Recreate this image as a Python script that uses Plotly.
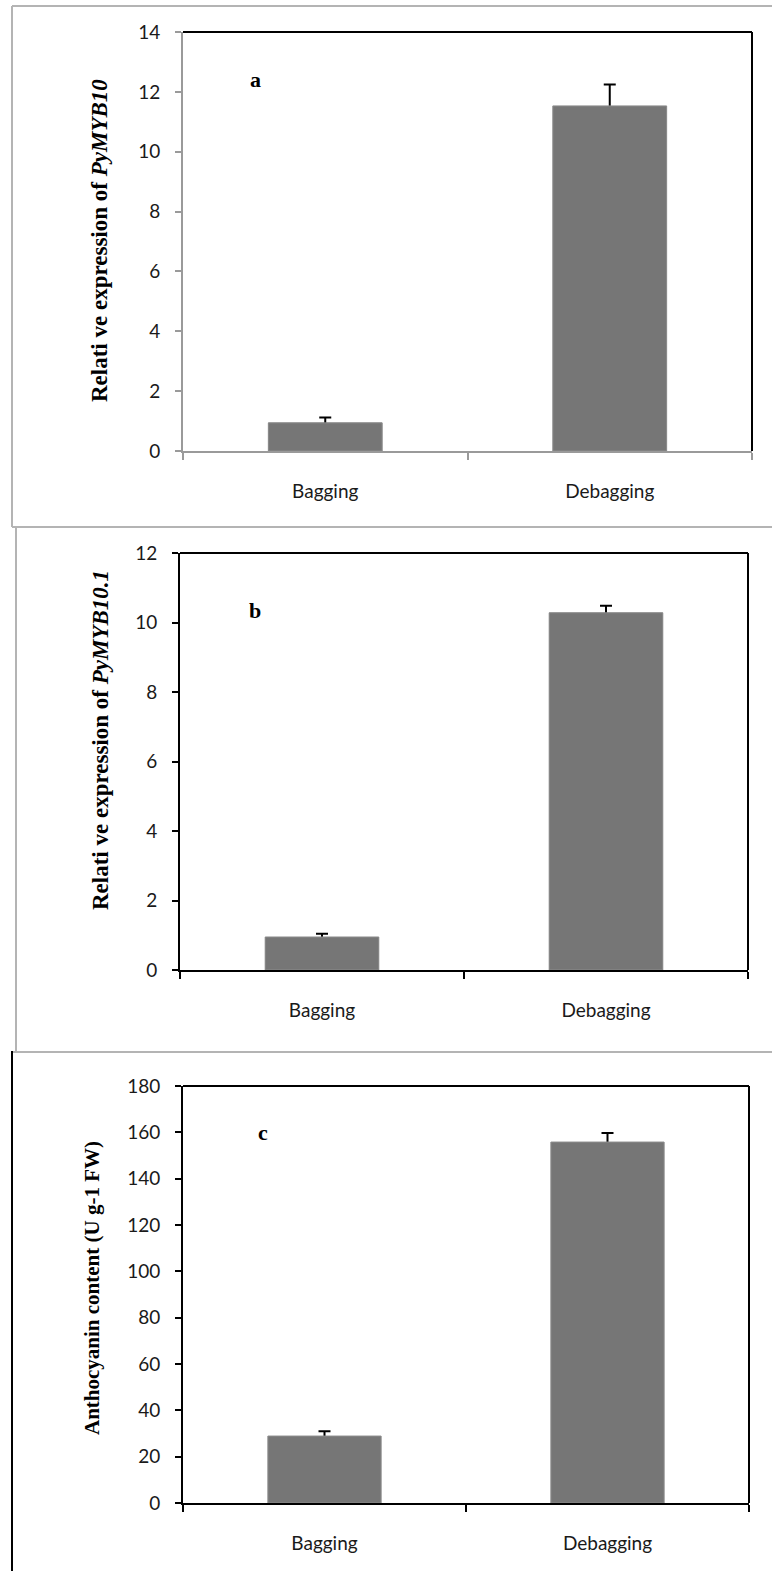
import plotly.graph_objects as go

W, H = 772, 1571

categories = ["Bagging", "Debagging"]

# Panel a: PyMYB10
a_values = [0.94, 11.53]
a_errors = [0.18, 0.72]
a_ticks = [0, 2, 4, 6, 8, 10, 12, 14]

# Panel b: PyMYB10.1
b_values = [0.95, 10.28]
b_errors = [0.09, 0.20]
b_ticks = [0, 2, 4, 6, 8, 10, 12]

# Panel c: anthocyanin
c_values = [28.9, 155.8]
c_errors = [2.1, 3.9]
c_ticks = [0, 20, 40, 60, 80, 100, 120, 140, 160, 180]

BAR = "#767676"
TICKFONT = dict(family="Lato, Open Sans, sans-serif", size=19, color="#1a1a1a")
SERIF = "Liberation Serif, Times New Roman, serif"


def px_x(v):
    return v / W


def px_y(v):
    return 1 - v / H


panels = [
    dict(vals=a_values, errs=a_errors, ticks=a_ticks, rng=[0, 14], x0=183, x1=752, y0=32, y1=451,
         axcol="#9a9a9a", letter="a", lx=255, ly=80,
         title="<b>Relati ve expression of <i>PyMYB10</i></b>", tx=100, ty=240, ts=23),
    dict(vals=b_values, errs=b_errors, ticks=b_ticks, rng=[0, 12], x0=180, x1=748, y0=553, y1=970,
         axcol="#000000", letter="b", lx=255, ly=610,
         title="<b>Relati ve expression of <i>PyMYB10.1</i></b>", tx=100, ty=740, ts=23),
    dict(vals=c_values, errs=c_errors, ticks=c_ticks, rng=[0, 180], x0=183, x1=749, y0=1086, y1=1503,
         axcol="#000000", letter="c", lx=263, ly=1132,
         title="<b>Anthocyanin content (U g-1 FW)</b>", tx=92, ty=1288, ts=21),
]

fig = go.Figure()
layout = dict(
    width=W, height=H, margin=dict(l=0, r=0, t=0, b=0, pad=0, autoexpand=False),
    paper_bgcolor="white", plot_bgcolor="white", showlegend=False,
    bargap=0.6, barmode="overlay",
)
annotations = []
shapes = []

for i, p in enumerate(panels, start=1):
    sfx = "" if i == 1 else str(i)
    # bar carrying symmetric error bars (lower half hidden by the bar drawn over it)
    fig.add_trace(go.Bar(
        x=categories, y=p["vals"], marker=dict(color=BAR, line=dict(width=0)),
        error_y=dict(type="data", array=p["errs"], color="#000000", thickness=2, width=6),
        xaxis="x" + sfx, yaxis="y" + sfx, hoverinfo="skip",
    ))
    fig.add_trace(go.Bar(
        x=categories, y=p["vals"], marker=dict(color=BAR, line=dict(color="#8c8c8c", width=1)),
        xaxis="x" + sfx, yaxis="y" + sfx,
    ))
    layout["xaxis" + sfx] = dict(
        domain=[px_x(p["x0"]), px_x(p["x1"])], anchor="y" + sfx, automargin=False,
        type="category", tickson="boundaries", ticks="outside", ticklen=7,
        tickcolor=p["axcol"], tickwidth=1.5, ticklabelstandoff=22,
        showline=True, linecolor=p["axcol"], linewidth=2,
        showgrid=False, zeroline=False, tickfont=TICKFONT, fixedrange=True,
    )
    layout["yaxis" + sfx] = dict(
        domain=[px_y(p["y1"]), px_y(p["y0"])], anchor="x" + sfx, automargin=False,
        range=p["rng"], tickvals=p["ticks"], ticks="outside", ticklen=6,
        tickcolor=p["axcol"], tickwidth=1.5, ticklabelstandoff=11,
        showline=True, linecolor=p["axcol"], linewidth=2,
        showgrid=False, zeroline=False, tickfont=TICKFONT, fixedrange=True,
    )
    # top and right frame lines (black)
    shapes.append(dict(type="line", xref="x%s domain" % sfx, yref="y%s domain" % sfx,
                       x0=0, x1=1, y0=1, y1=1, line=dict(color="black", width=2)))
    shapes.append(dict(type="line", xref="x%s domain" % sfx, yref="y%s domain" % sfx,
                       x0=1, x1=1, y0=0, y1=1, line=dict(color="black", width=2)))
    annotations.append(dict(text="<b>%s</b>" % p["letter"], x=px_x(p["lx"]), y=px_y(p["ly"]),
                            xref="paper", yref="paper", showarrow=False,
                            xanchor="center", yanchor="middle",
                            font=dict(family=SERIF, size=22, color="black")))
    annotations.append(dict(text=p["title"], x=px_x(p["tx"]), y=px_y(p["ty"]),
                            xref="paper", yref="paper", showarrow=False, textangle=-90,
                            xanchor="center", yanchor="middle",
                            font=dict(family=SERIF, size=p["ts"], color="black")))

# outer panel borders
GRAY = "#b4b4b4"
shapes += [
    dict(type="line", xref="paper", yref="paper", x0=px_x(12), x1=1.01, y0=px_y(6), y1=px_y(6),
         line=dict(color=GRAY, width=2)),
    dict(type="line", xref="paper", yref="paper", x0=px_x(12), x1=px_x(12), y0=px_y(6), y1=px_y(527),
         line=dict(color=GRAY, width=2)),
    dict(type="line", xref="paper", yref="paper", x0=px_x(12), x1=1.01, y0=px_y(527), y1=px_y(527),
         line=dict(color=GRAY, width=2)),
    dict(type="line", xref="paper", yref="paper", x0=px_x(16), x1=px_x(16), y0=px_y(527), y1=px_y(1052),
         line=dict(color=GRAY, width=2)),
    dict(type="line", xref="paper", yref="paper", x0=px_x(12), x1=1.01, y0=px_y(1052), y1=px_y(1052),
         line=dict(color=GRAY, width=2)),
    dict(type="line", xref="paper", yref="paper", x0=px_x(12), x1=px_x(12), y0=px_y(1051), y1=-0.01,
         line=dict(color="black", width=2)),
]

layout["annotations"] = annotations
layout["shapes"] = shapes
fig.update_layout(**layout)
fig.write_html(
    "out.html",
    config={"displayModeBar": False},
    post_script="document.body.style.margin='0';document.body.style.overflow='hidden';",
)
